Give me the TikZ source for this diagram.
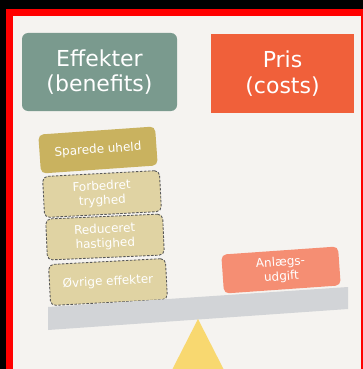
\documentclass[tikz,border=0pt]{standalone}
\usepackage{fontspec}
\setmainfont{DejaVu Sans}
\usepackage{tikz}
\usetikzlibrary{shapes,positioning,calc}

\definecolor{bgcol}{HTML}{F5F3F0}
\definecolor{tealcol}{HTML}{7A9A8E}
\definecolor{orangecol}{HTML}{F0603A}
\definecolor{mustardcol}{HTML}{C9B25F}
\definecolor{tancol}{HTML}{E0D3A3}
\definecolor{salmoncol}{HTML}{F58E73}
\definecolor{beamcol}{HTML}{D2D4D7}
\definecolor{pivotcol}{HTML}{F8D870}

\begin{document}
\begin{tikzpicture}[
    x=1pt,
    y=-1pt,
    every node/.style={text=white,align=center,inner sep=0pt},
    head/.style={minimum width=155pt,minimum height=78pt,font=\fontsize{22}{25.5}\selectfont},
    weight/.style={rounded corners=5pt,minimum width=117pt,minimum height=39pt,font=\fontsize{12}{14.5}\selectfont},
    extra/.style={weight,fill=tancol,draw=black!65,dash pattern=on 2.5pt off 1.5pt,line width=0.9pt,minimum height=41pt}
    ]
    \useasboundingbox (0,0) rectangle (363,369);
    % frame
    \fill[black] (0,0) rectangle (363,369);
    \fill[red] (6,9) rectangle (363,369);
    \fill[bgcol] (13,16) rectangle (361,369);

    % headings
    \node[head,fill=tealcol,rounded corners=6pt] (benefit) at (99.5,72) {Effekter\\(benefits)};
    \node[head,fill=orangecol,minimum width=143pt,minimum height=79pt] (cost) at (282.5,73.5) {Pris\\(costs)};

    % benefit side
    \node[weight,fill=mustardcol,rotate=4] (uheld) at (98,150) {Sparede uheld};
    \node[extra,rotate=3] (tryg) at (102,194) {Forbedret\\tryghed};
    \node[extra,rotate=2.5] (hast) at (105,237) {Reduceret\\hastighed};
    \node[extra,rotate=3] (ovrig) at (108,282) {Øvrige effekter};

    % cost side
    \node[weight,fill=salmoncol,rotate=4] (anlaeg) at (281,270) {Anlægs-\\udgift};

    % scale
    \fill[beamcol] (48,307) -- (348,287) -- (348,309) -- (48,330) -- cycle;
    \fill[pivotcol] (198,319) -- (223.5,369) -- (172.5,369) -- cycle;
  \end{tikzpicture}
\end{document}
